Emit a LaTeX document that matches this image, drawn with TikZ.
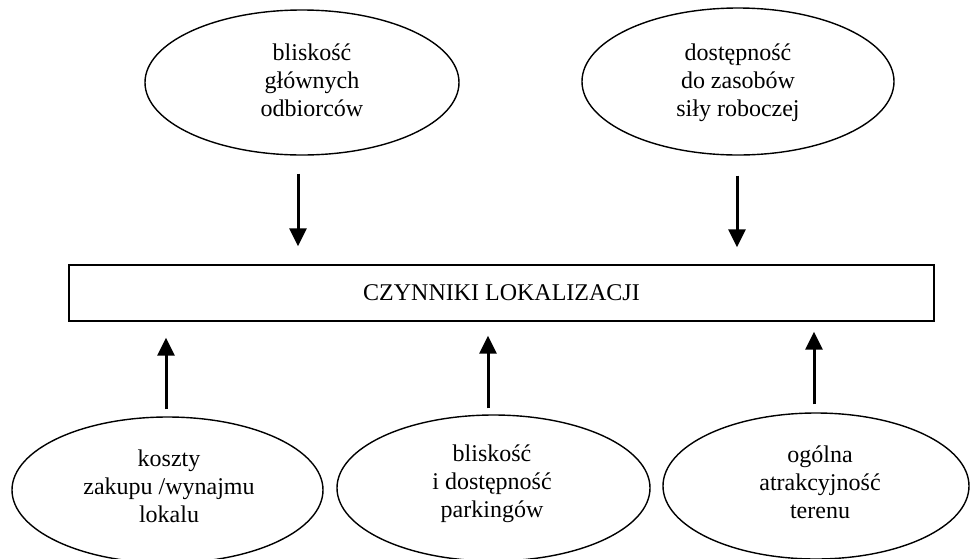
\documentclass[tikz,border=0pt]{standalone}
\usepackage{fontspec}
\setmainfont{Liberation Serif}
\usetikzlibrary{shapes.geometric,arrows.meta}
\begin{document}
\begin{tikzpicture}[x=1pt,y=-1pt,
  oval/.style={draw,ellipse,line width=1.4pt,inner sep=0pt},
  lbl/.style={align=center,inner sep=0pt,font=\fontsize{24}{28}\selectfont},
  mainbox/.style={draw,line width=1.4pt,inner sep=0pt,font=\fontsize{24}{28}\selectfont},
  arr/.style={line width=3pt,-{Triangle[width=17pt,length=18pt]}}]
\useasboundingbox (0,0) rectangle (970,558);
% main box
\node[mainbox,minimum width=865pt,minimum height=56pt] (box) at (501.5,293) {CZYNNIKI LOKALIZACJI};
% top ellipses
\node[oval,minimum width=314pt,minimum height=145pt] (e1) at (302,82.5) {};
\node[lbl] (t1) at (312,80) {bliskość\\głównych\\odbiorców};
\node[oval,minimum width=312pt,minimum height=147pt] (e2) at (738,81.5) {};
\node[lbl] (t2) at (738,83) {dostępność\\do zasobów\\siły roboczej};
% bottom ellipses
\node[oval,minimum width=311pt,minimum height=146pt] (e3) at (167.5,490) {};
\node[lbl] (t3) at (169,486) {koszty\\zakupu /wynajmu\\lokalu};
\node[oval,minimum width=313pt,minimum height=146pt] (e4) at (493.5,488) {};
\node[lbl] (t4) at (492,484) {bliskość\\i dostępność\\parkingów};
\node[oval,minimum width=306pt,minimum height=146pt] (e5) at (816,486) {};
\node[lbl] (t5) at (820,482) {ogólna\\atrakcyjność\\terenu};
% arrows
\draw[arr,shorten <=18pt,shorten >=18pt] ([xshift=-4pt]e1.south) -- ([xshift=-4pt]e1.south |- box.north);
\draw[arr,shorten <=20pt,shorten >=17pt] ([xshift=-1pt]e2.south) -- ([xshift=-1pt]e2.south |- box.north);
\draw[arr,shorten <=7pt,shorten >=16pt] ([xshift=-1.5pt]e3.north) -- ([xshift=-1.5pt]e3.north |- box.south);
\draw[arr,shorten <=6pt,shorten >=14pt] ([xshift=-5.5pt]e4.north) -- ([xshift=-5.5pt]e4.north |- box.south);
\draw[arr,shorten <=8pt,shorten >=10pt] ([xshift=-2pt]e5.north) -- ([xshift=-2pt]e5.north |- box.south);
\end{tikzpicture}
\end{document}
